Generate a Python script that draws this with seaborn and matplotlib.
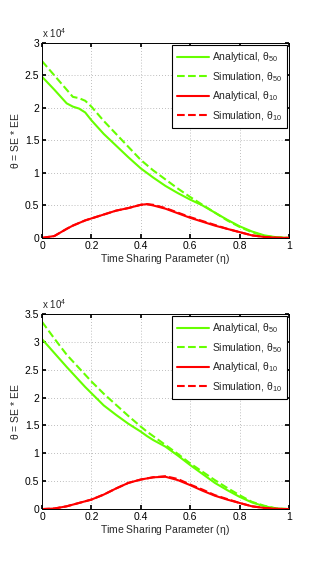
import numpy as np
import pandas as pd
import matplotlib
matplotlib.use("Agg")
import matplotlib.pyplot as plt
import seaborn as sns
from matplotlib.ticker import FuncFormatter, MultipleLocator

# ---------------- data (values in units of 1e4) -------------
eta = [0, .05, .1, .125, .15, .175, .2, .25, .3, .35, .4, .425, .45, .5, .55, .6,
       .65, .7, .75, .8, .85, .9, .95, 1]

top_ana50 = [2.48, 2.28, 2.07, 2.02, 1.99, 1.93, 1.81, 1.60, 1.42, 1.24, 1.07, 1.00,
             0.93, 0.80, 0.69, 0.59, 0.50, 0.39, 0.28, 0.18, 0.10, 0.04, 0.01, 0]
top_sim50 = [2.72, 2.50, 2.28, 2.17, 2.15, 2.11, 2.02, 1.80, 1.60, 1.40, 1.20, 1.12,
             1.04, 0.90, 0.76, 0.63, 0.51, 0.39, 0.27, 0.17, 0.09, 0.03, 0.01, 0]
top_ana10 = [0, 0.03, 0.14, 0.19, 0.23, 0.27, 0.30, 0.36, 0.42, 0.46, 0.51, 0.52,
             0.50, 0.45, 0.38, 0.31, 0.25, 0.19, 0.14, 0.09, 0.04, 0.015, 0.003, 0]
top_sim10 = [0, 0.03, 0.14, 0.19, 0.23, 0.27, 0.30, 0.36, 0.42, 0.46, 0.51, 0.52,
             0.51, 0.46, 0.39, 0.32, 0.26, 0.20, 0.14, 0.09, 0.04, 0.015, 0.003, 0]

bot_ana50 = [3.05, 2.80, 2.55, 2.43, 2.31, 2.19, 2.08, 1.86, 1.69, 1.53, 1.39, 1.31,
             1.24, 1.12, 0.96, 0.79, 0.63, 0.47, 0.34, 0.22, 0.12, 0.05, 0.01, 0]
bot_sim50 = [3.36, 3.06, 2.77, 2.65, 2.53, 2.41, 2.29, 2.07, 1.87, 1.67, 1.48, 1.39,
             1.31, 1.15, 0.99, 0.82, 0.67, 0.52, 0.38, 0.25, 0.13, 0.06, 0.01, 0]
bot_ana10 = [0, 0.01, 0.05, 0.08, 0.11, 0.14, 0.17, 0.26, 0.37, 0.47, 0.53, 0.55,
             0.57, 0.58, 0.52, 0.43, 0.33, 0.24, 0.17, 0.11, 0.05, 0.02, 0.004, 0]
bot_sim10 = [0, 0.01, 0.05, 0.08, 0.11, 0.14, 0.17, 0.26, 0.37, 0.47, 0.53, 0.55,
             0.57, 0.59, 0.54, 0.44, 0.35, 0.25, 0.18, 0.11, 0.05, 0.02, 0.004, 0]

labels = [r"Analytical, $\theta_{50}$", r"Simulation, $\theta_{50}$",
          r"Analytical, $\theta_{10}$", r"Simulation, $\theta_{10}$"]
colors = ["#66ff00", "#66ff00", "#ff0000", "#ff0000"]
styles = ["-", "--", "-", "--"]

sns.set_theme(style="white")
plt.rcParams["font.family"] = ["Liberation Sans", "DejaVu Sans"]
plt.rcParams["mathtext.fontset"] = "custom"
plt.rcParams["mathtext.rm"] = "Liberation Sans"
plt.rcParams["mathtext.it"] = "Liberation Sans"
plt.rcParams["mathtext.bf"] = "Liberation Sans:bold"
plt.rcParams["mathtext.default"] = "regular"

fig = plt.figure(figsize=(3.19, 5.72), dpi=100)
ax1 = fig.add_axes([0.1317, 0.584, 0.774, 0.341])
ax2 = fig.add_axes([0.1317, 0.110, 0.774, 0.341])

panels = [
    (ax1, [top_ana50, top_sim50, top_ana10, top_sim10], 3.0),
    (ax2, [bot_ana50, bot_sim50, bot_ana10, bot_sim10], 3.5),
]

for ax, series, ymax in panels:
    for vals, lab, c, ls in zip(series, labels, colors, styles):
        df = pd.DataFrame({"eta": eta, "theta": np.array(vals) * 1e4})
        sns.lineplot(data=df, x="eta", y="theta", ax=ax, color=c, linestyle=ls,
                     linewidth=1.5, label=lab, dashes=False, sort=False)
    ax.set_xlim(0, 1)
    ax.set_ylim(0, ymax * 1e4)
    ax.xaxis.set_major_locator(MultipleLocator(0.2))
    ax.yaxis.set_major_locator(MultipleLocator(0.5e4))
    ax.xaxis.set_major_formatter(FuncFormatter(lambda v, p: f"{v:g}"))
    ax.yaxis.set_major_formatter(FuncFormatter(lambda v, p: f"{v/1e4:g}"))
    ax.grid(True, linestyle=(0, (1, 2.5)), color="#a8a8a8", linewidth=0.6)
    ax.tick_params(direction="in", length=3, labelsize=7.5, colors="black",
                   top=True, right=True, bottom=True, left=True, pad=2)
    for s in ax.spines.values():
        s.set_color("black")
        s.set_linewidth(0.7)
    ax.set_xlabel(r"Time Sharing Parameter ($\eta$)", fontsize=7.5, labelpad=1)
    ax.set_ylabel(r"$\theta$ = SE * EE", fontsize=7.5, labelpad=3)
    ax.text(0.0, 1.015, r"x 10$^4$", transform=ax.transAxes, fontsize=7,
            ha="left", va="bottom")
    leg = ax.legend(loc="upper right", fontsize=7.5, frameon=True, fancybox=False,
                    framealpha=1, edgecolor="black", borderaxespad=0.2,
                    handlelength=3.0, labelspacing=0.55, handletextpad=0.3,
                    borderpad=0.5)
    leg.get_frame().set_linewidth(0.8)

fig.savefig("out.png", dpi=100, facecolor="white")
